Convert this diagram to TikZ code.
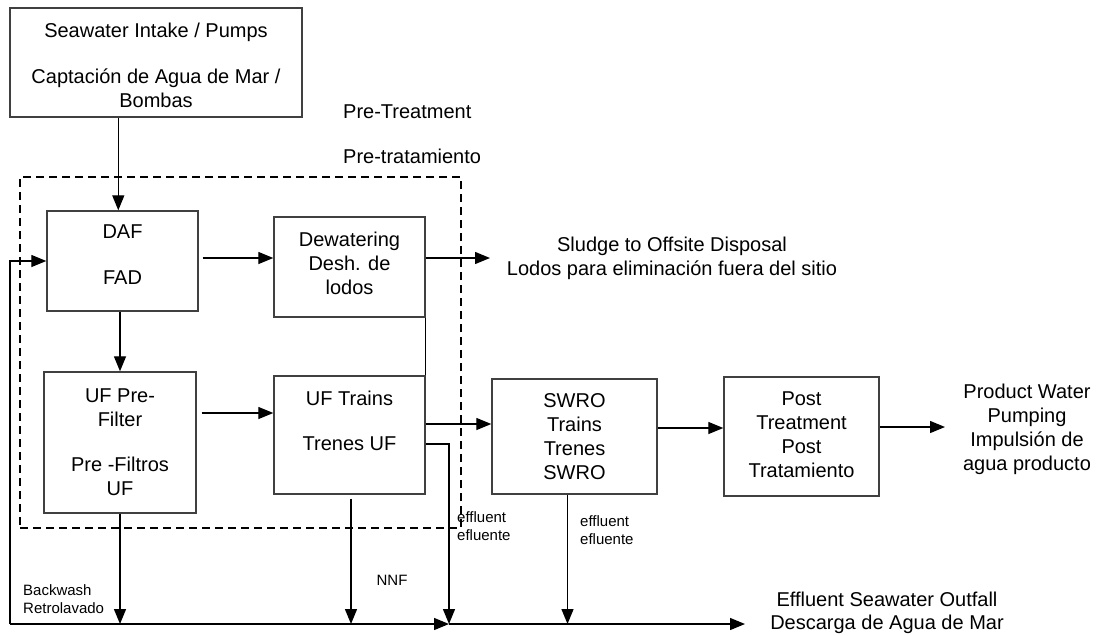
\documentclass[tikz,border=0pt]{standalone}
\usepackage{fontspec}
\setmainfont{Liberation Sans}
\usetikzlibrary{arrows.meta,calc}
\begin{document}
\begin{tikzpicture}[x=1pt,y=-1pt,
  box/.style={draw=black!75,line width=1.4pt,inner sep=0pt,align=center,
    font=\fontsize{20}{24}\selectfont},
  boxtxt/.style={inner sep=0pt,align=center,font=\fontsize{20}{24}\selectfont},
  bigtxt/.style={inner sep=0pt,align=center,font=\fontsize{20}{24}\selectfont},
  smalltxt/.style={inner sep=0pt,align=left,font=\fontsize{15}{18}\selectfont},
  arr/.style={line width=1.35pt,-{Triangle[length=15pt,width=12pt]}},
  conn/.style={line width=1.35pt},
  dashbox/.style={draw,line width=1.8pt,dash pattern=on 8pt off 5pt,inner sep=0pt}
]
\useasboundingbox (0,0) rectangle (1099,635);

% dashed pre-treatment frame
\node[dashbox,minimum width=441pt,minimum height=351pt] (ptbox) at (240.5,352.5) {};

% boxes
\node[box,minimum width=292pt,minimum height=109pt,
  label={[boxtxt,yshift=-2.5pt]center:Seawater Intake / Pumps\\[22pt]Captación de Agua de Mar /\\Bombas}] (intake) at (156,62.5) {};
\node[box,minimum width=151pt,minimum height=100pt,
  label={[boxtxt,yshift=6pt]center:DAF\\[22pt]FAD}] (daf) at (122.5,261) {};
\node[box,minimum width=151pt,minimum height=100pt,
  label={[boxtxt,yshift=4pt]center:Dewatering\\Desh. de\\lodos}] (dew) at (349.5,267) {};
\node[box,minimum width=152pt,minimum height=141pt] (ufp) at (120,442.5)
  {UF Pre-\\Filter\\[21pt]Pre -Filtros\\UF};
\node[box,minimum width=151pt,minimum height=118pt,
  label={[boxtxt,yshift=14.5pt]center:UF Trains\\[21pt]Trenes UF}] (uft) at (349.5,435) {};
\node[box,minimum width=165pt,minimum height=115pt] (swro) at (574.5,436.5)
  {SWRO\\Trains\\Trenes\\SWRO};
\node[box,minimum width=155pt,minimum height=119pt,
  label={[boxtxt,yshift=1.5pt]center:Post\\Treatment\\Post\\Tratamiento}] (post) at (801.5,436.5) {};

% free texts
\node[bigtxt,align=left,anchor=west] (pretxt) at (343,134.5)
  {Pre-Treatment\\[21pt]Pre-tratamiento};
\node[bigtxt] (sludge) at (672,258.5)
  {Sludge to Offsite Disposal\\Lodos para eliminación fuera del sitio};
\node[bigtxt] (product) at (1027,429)
  {Product Water\\Pumping\\Impulsión de\\agua producto};
\node[bigtxt] (outfall) at (887,613)
  {Effluent Seawater Outfall\\[-1pt]Descarga de Agua de Mar};
\node[smalltxt,anchor=west] (eff1) at (457,526) {effluent\\efluente};
\node[smalltxt,anchor=west] (eff2) at (580,530.5) {effluent\\efluente};
\node[smalltxt] (nnf) at (392,580) {NNF};
\node[smalltxt,anchor=west] (bw) at (23,599) {Backwash\\Retrolavado};

% coordinates
\coordinate (loopB) at (10,624);
\coordinate (loopT) at (10,261);
\coordinate (mid) at (449,624);
\coordinate (outE) at (745,624);
\coordinate (sludgein) at (490,258);
\coordinate (prodin) at (945,427);

% connectors
\draw[arr] ([xshift=109pt]intake.south west) -- ([xshift=109pt]intake.south west |- daf.north);
\draw[arr] (loopB) -- (loopT) -- (loopT -| daf.west);
\draw[arr] (loopB) -- (mid);
\draw[arr] (mid) -- (outE);
\draw[arr] ([xshift=4pt,yshift=3pt]daf.east) -- ([yshift=3pt]daf.east -| dew.west);
\draw[arr] ([yshift=9pt]dew.east) -- (sludgein);
\draw[conn] (dew.south east) -- (uft.north east);
\draw[arr] (daf.south -| ufp.north) -- (ufp.north);
\draw[arr] ([xshift=5pt,yshift=29.5pt]ufp.east) -- ([yshift=29.5pt]ufp.east -| uft.west);
\draw[arr] ([yshift=11pt]uft.east) -- ([yshift=11pt]uft.east -| swro.west);
\draw[arr] ([yshift=-9pt]uft.east) -- ([yshift=-9pt]uft.east -| mid) -- (mid);
\draw[arr] (ufp.south) -- (ufp.south |- loopB);
\draw[arr] ([xshift=1.5pt,yshift=-4pt]uft.south) -- ([xshift=1.5pt]uft.south |- loopB);
\draw[arr] ([xshift=-7pt]swro.south) -- ([xshift=-7pt]swro.south |- loopB);
\draw[arr] ([yshift=8.5pt]swro.east) -- ([yshift=8.5pt]swro.east -| post.west);
\draw[arr] ([yshift=9.5pt]post.east) -- (prodin);
\end{tikzpicture}
\end{document}
